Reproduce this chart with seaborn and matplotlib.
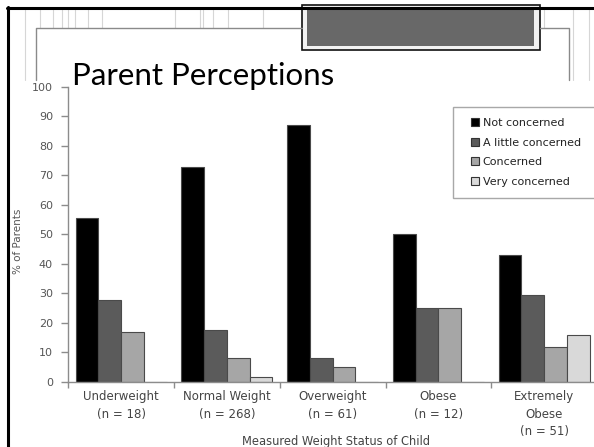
import matplotlib
matplotlib.use("Agg")
import matplotlib.pyplot as plt
from matplotlib.lines import Line2D
from matplotlib.patches import Rectangle
from matplotlib.ticker import FixedLocator
import pandas as pd
import seaborn as sns

# ---- data -------------------------------------------------------------
groups = [
    "Underweight\n(n = 18)",
    "Normal Weight\n(n = 268)",
    "Overweight\n(n = 61)",
    "Obese\n(n = 12)",
    "Extremely\nObese\n(n = 51)",
]
levels = ["Not concerned", "A little concerned", "Concerned", "Very concerned"]
not_concerned = [55.6, 72.8, 86.9, 50.0, 43.1]
little_concerned = [27.8, 17.5, 8.2, 25.0, 29.4]
concerned = [16.7, 8.2, 4.9, 25.0, 11.8]
very_concerned = [0.0, 1.5, 0.0, 0.0, 15.7]
y_ticks = list(range(0, 101, 10))

bar_colors = ["#000000", "#5b5b5b", "#a6a6a6", "#d9d9d9"]

rows = []
for level, vals in zip(levels, [not_concerned, little_concerned, concerned, very_concerned]):
    for g, v in zip(groups, vals):
        rows.append({"group": g, "level": level, "pct": v})
df = pd.DataFrame(rows)

# ---- figure -----------------------------------------------------------
sns.set_style("white")
plt.rcParams["font.family"] = ["DejaVu Sans"]

W, H = 594, 447
fig = plt.figure(figsize=(W / 100, H / 100), dpi=100)
fig.patch.set_facecolor("white")


def fx(x):
    return x / W


def fy(y):
    return 1 - y / H


def fline(xs, ys, **kw):
    fig.add_artist(Line2D([fx(x) for x in xs], [fy(y) for y in ys],
                          transform=fig.transFigure, **kw))


# slide background: faint vertical rules near the top
for x in [25]:
    fline([x, x], [8, 80], color="#d6d6d6", lw=0.8)
for x in [40, 53, 62, 68, 75, 88, 102, 175, 200, 203, 213, 228, 263, 544]:
    fline([x, x], [8, 28], color="#d6d6d6", lw=0.8)
for x in [573, 589]:
    fline([x, x], [8, 80], color="#d6d6d6", lw=0.8)

# inner frame lines
fline([36, 36, 302], [80, 28.3, 28.3], color="#8a8a8a", lw=1.0)
fline([540, 569, 569], [28.3, 28.3, 80], color="#8a8a8a", lw=1.0)

# header box
fig.add_artist(Rectangle((fx(301.7), fy(50)), (539.7 - 301.7) / W, (50 - 5) / H,
                         transform=fig.transFigure, facecolor="#f2f2f2",
                         edgecolor="#111111", lw=1.2))
fig.add_artist(Rectangle((fx(306.7), fy(45.7)), (534 - 306.7) / W, (45.7 - 7) / H,
                         transform=fig.transFigure, facecolor="#686868",
                         edgecolor="none"))

# slide border
fline([7.5, 7.5], [6.5, 447], color="#000000", lw=2.2)
fline([6.5, 594], [7.5, 7.5], color="#000000", lw=2.2)

# ---- chart ------------------------------------------------------------
ax = fig.add_axes([fx(68.3), fy(381.7), (597 - 68.3) / W, (381.7 - 86.7) / H])
ax.set_facecolor("none")

sns.barplot(data=df, x="group", y="pct", hue="level", order=groups,
            hue_order=levels, palette=bar_colors, width=0.86, saturation=1,
            edgecolor="#4a4a4a", linewidth=0.8, errorbar=None, legend=False,
            ax=ax)

ax.set_xlim(-0.5, 4.5)
ax.set_ylim(0, 100)
ax.set_yticks(y_ticks)
ax.set_xlabel("")
ax.set_ylabel("")

for side in ["top", "right"]:
    ax.spines[side].set_visible(False)
for side in ["left", "bottom"]:
    ax.spines[side].set_color("#8c8c8c")
    ax.spines[side].set_linewidth(1.0)

ax.tick_params(axis="y", direction="out", length=5, width=1, color="#8c8c8c",
               labelsize=8, labelcolor="#555555", pad=6, left=True)
ax.tick_params(axis="x", which="major", length=0, labelsize=8.5,
               labelcolor="#444444", pad=6)
ax.xaxis.set_minor_locator(FixedLocator([-0.5, 0.5, 1.5, 2.5, 3.5, 4.5]))
ax.tick_params(axis="x", which="minor", direction="out", length=4, width=1,
               color="#8c8c8c", bottom=True)
for lab in ax.get_xticklabels():
    lab.set_linespacing(1.45)
    lab.set_verticalalignment("top")

# axis titles
fig.text(fx(18), fy(241), "% of Parents", rotation=90, ha="center",
         va="center", fontsize=7.5, color="#555555")
fig.text(fx(242), fy(445.5), "Measured Weight Status of Child", ha="left",
         va="baseline", fontsize=8.3, color="#444444")

# legend
fig.add_artist(Rectangle((fx(453), fy(198)), (600 - 453) / W, (198 - 107) / H,
                         transform=fig.transFigure, facecolor="white",
                         edgecolor="#a8a8a8", lw=1.0, zorder=3))
handles = [Rectangle((0, 0), 1, 1, facecolor=c, edgecolor="#333333", lw=0.8)
           for c in bar_colors]
leg = fig.legend(handles, levels, loc="upper left",
                 bbox_to_anchor=(fx(471), fy(118)), frameon=False,
                 fontsize=8, handlelength=0.75, handleheight=0.75,
                 handletextpad=0.3, labelspacing=0.86, borderpad=0,
                 borderaxespad=0)
leg.set_zorder(4)
for t in leg.get_texts():
    t.set_color("#222222")

# slide title
fig.text(fx(72), fy(85.5), "Parent Perceptions", fontsize=22.5,
         family=["Lato", "DejaVu Sans"], fontweight="normal", color="#000000",
         va="baseline", ha="left", zorder=5)

fig.savefig("out.png", dpi=100, facecolor="white")
